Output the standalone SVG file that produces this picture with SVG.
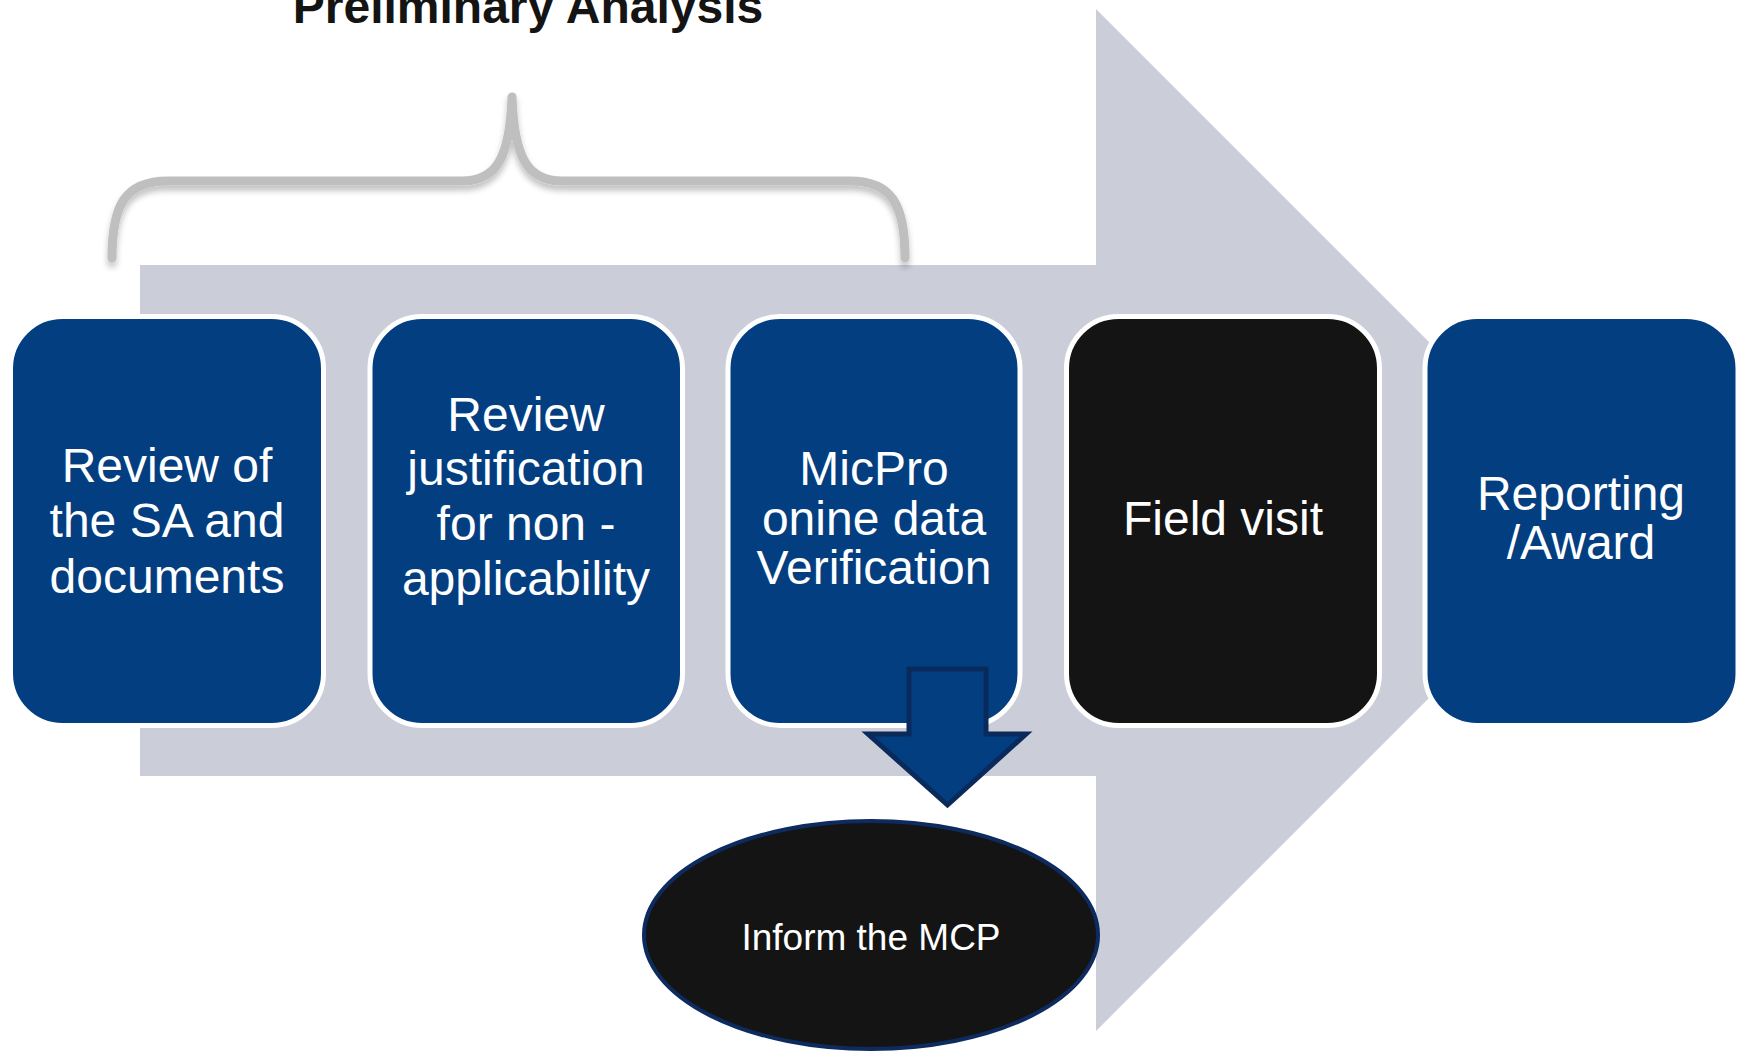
<svg xmlns="http://www.w3.org/2000/svg" width="1739" height="1052" viewBox="0 0 1739 1052">
<style>
  .box { stroke: #ffffff; stroke-width: 5; }
  .blue { fill: #023E80; }
  .dark { fill: #141414; }
  .lbl { font-family: "Liberation Sans", Arial, sans-serif; font-size: 48px; fill: #ffffff; text-anchor: middle; }
  .title { font-family: "Liberation Sans", Arial, sans-serif; font-size: 48px; font-weight: bold; fill: #141414; text-anchor: middle; }
</style>
<defs>
  <filter id="shadow" x="-10%" y="-20%" width="120%" height="150%">
    <feGaussianBlur in="SourceAlpha" stdDeviation="3"/>
    <feOffset dx="0" dy="5" result="b"/>
    <feComponentTransfer><feFuncA type="linear" slope="0.25"/></feComponentTransfer>
    <feMerge><feMergeNode/><feMergeNode in="SourceGraphic"/></feMerge>
  </filter>
</defs>
<rect width="1739" height="1052" fill="#ffffff"/>
<g id="big-arrow">
  <polygon points="140,265 1096,265 1096,9 1607,520 1096,1031 1096,776 140,776" fill="#CBCED9"/>
</g>
<g id="brace">
  <path d="M112,258 C112,205 125,181 168,181 L462,181 C495,181 510,160 512,97 C514,160 529,181 562,181 L850,181 C892,181 905,205 905,258" fill="none" stroke="#BFBFBF" stroke-width="9" stroke-linecap="round" stroke-linejoin="round" filter="url(#shadow)"/>
</g>
<g id="title">
  <text class="title" x="528" y="23">Preliminary Analysis</text>
</g>
<g id="node-review-sa">
  <rect class="box blue" x="10.5" y="316.5" width="313" height="409" rx="52" ry="52"/>
  <text class="lbl" x="167" y="482">Review of</text>
  <text class="lbl" x="167" y="537">the SA and</text>
  <text class="lbl" x="167" y="593">documents</text>
</g>
<g id="node-review-justification">
  <rect class="box blue" x="370" y="316.5" width="312.5" height="409" rx="52" ry="52"/>
  <text class="lbl" x="526" y="431">Review</text>
  <text class="lbl" x="526" y="485">justification</text>
  <text class="lbl" x="526" y="540">for non -</text>
  <text class="lbl" x="526" y="595">applicability</text>
</g>
<g id="node-micpro">
  <rect class="box blue" x="728" y="316.5" width="292" height="409" rx="52" ry="52"/>
  <text class="lbl" x="874" y="485">MicPro</text>
  <text class="lbl" x="874" y="535">onine data</text>
  <text class="lbl" x="874" y="584">Verification</text>
</g>
<g id="node-field-visit">
  <rect class="box dark" x="1066.5" y="316.5" width="313" height="409" rx="52" ry="52"/>
  <text class="lbl" x="1223" y="535">Field visit</text>
</g>
<g id="node-reporting">
  <rect class="box blue" x="1425" y="316.5" width="313" height="409" rx="52" ry="52"/>
  <text class="lbl" x="1581" y="510">Reporting</text>
  <text class="lbl" x="1581" y="559">/Award</text>
</g>
<g id="connectors">
  <polygon points="909,669 986,669 986,734 1026,734 947.5,805 868,734 909,734" fill="#023E80" stroke="#0A2A5C" stroke-width="5" stroke-linejoin="miter"/>
</g>
<g id="node-inform">
  <ellipse cx="871" cy="935" rx="227" ry="114" fill="#141414" stroke="#0D2B5E" stroke-width="4"/>
  <text x="871" y="950" font-family="Liberation Sans, Arial, sans-serif" font-size="37" fill="#ffffff" text-anchor="middle">Inform the MCP</text>
</g>
</svg>
